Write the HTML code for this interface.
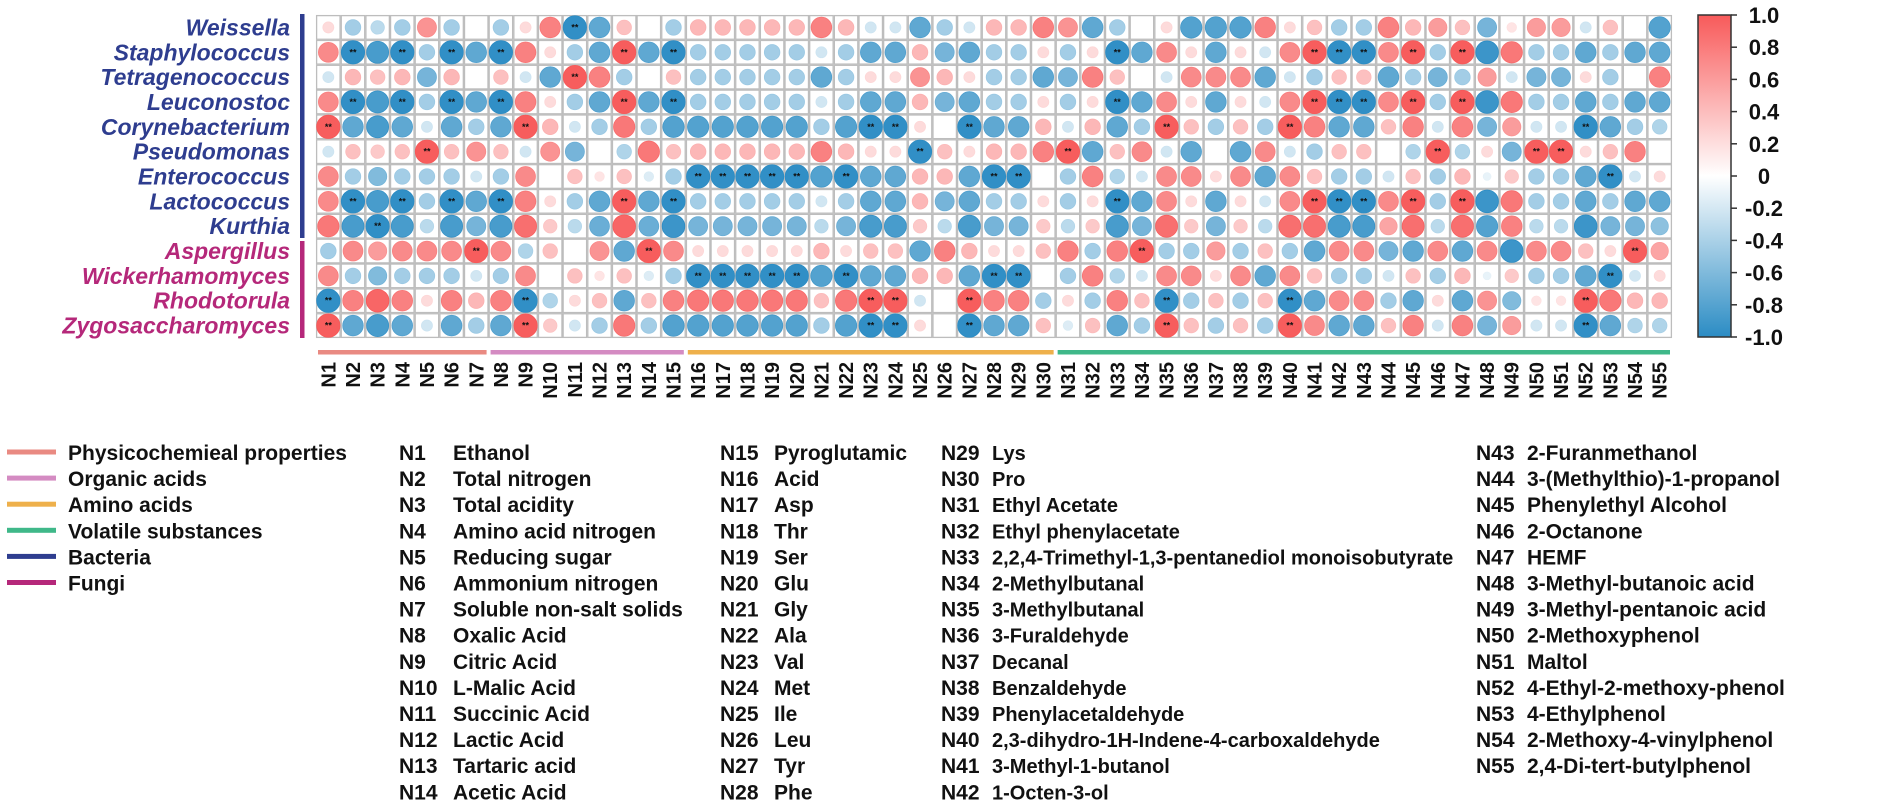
<!DOCTYPE html>
<html><head><meta charset="utf-8"><style>
html,body{margin:0;padding:0;background:#fff;}
svg{display:block;}
text{font-family:"Liberation Sans",Arial,sans-serif;}
</style></head><body>
<svg id="chart" width="1902" height="809" viewBox="0 0 1902 809" xmlns="http://www.w3.org/2000/svg">
<defs><linearGradient id="cbg" x1="0" y1="0" x2="0" y2="1">
<stop offset="0" stop-color="#f85a5a"/><stop offset="0.5" stop-color="#ffffff"/><stop offset="1" stop-color="#2b8cc4"/></linearGradient></defs>
<g id="grid"></g>
<g id="rowlabels"></g>
<g id="collabels"></g>
<g id="groupbars"></g>
<rect x="300" y="14" width="4.5" height="224" fill="#2e3d8f"/>
<rect x="300" y="241" width="4.5" height="97" fill="#b5287a"/>
<g>
<rect x="1698" y="15" width="33" height="322" fill="url(#cbg)" stroke="#333" stroke-width="1.5"/>
<g id="cbticks"></g>
</g>
<g id="legend"></g>
</svg>
<script>
const NS="http://www.w3.org/2000/svg";
const rowNames=["Weissella","Staphylococcus","Tetragenococcus","Leuconostoc","Corynebacterium","Pseudomonas","Enterococcus","Lactococcus","Kurthia","Aspergillus","Wickerhamomyces","Rhodotorula","Zygosaccharomyces"];
const rowGroups=["b","b","b","b","b","b","b","b","b","f","f","f","f"];
const colNames=Array.from({length:55},(_,i)=>"N"+(i+1));
const rWeissella=[0.2,-0.4,-0.3,-0.4,0.6,-0.4,0,-0.4,0.2,0.7,-0.9,-0.7,0.35,0,-0.4,0.4,0.4,0.4,0.4,0.4,0.7,0.4,-0.2,-0.2,-0.7,-0.4,-0.2,0.4,0.4,0.7,0.6,-0.7,-0.4,0,0.2,-0.75,-0.75,-0.75,0.7,0.2,0.35,-0.4,-0.4,0.7,0.4,0.55,0.35,-0.6,0.15,0.55,0.55,-0.2,0.35,0,-0.75];
const rStaphylococcus=[0.65,-0.9,-0.8,-0.9,-0.4,-0.9,-0.7,-0.9,0.7,0.2,-0.4,-0.7,0.9,-0.7,-0.9,-0.4,-0.4,-0.4,-0.4,-0.4,-0.2,-0.4,-0.7,-0.7,0.4,-0.6,-0.7,-0.4,-0.4,0.2,-0.4,0.2,-0.9,-0.7,0.65,0.2,-0.7,0.2,-0.2,0.65,0.9,-0.9,-0.9,0.65,0.9,-0.4,0.9,-0.85,0.75,-0.4,-0.4,-0.7,-0.4,-0.7,-0.7];
const rTetragenococcus=[-0.2,0.4,0.35,0.4,-0.6,0.4,0,0.35,-0.2,-0.7,0.9,0.7,-0.4,0,0.35,-0.4,-0.4,-0.4,-0.4,-0.4,-0.7,-0.4,0.2,0.2,0.6,0.4,0.2,-0.4,-0.4,-0.7,-0.6,0.7,0.35,0,-0.2,0.65,0.65,0.65,-0.7,-0.2,-0.4,0.35,0.35,-0.7,-0.4,-0.6,-0.4,0.55,-0.2,-0.6,-0.6,0.2,-0.4,0,0.7];
const rLeuconostoc=[0.65,-0.9,-0.8,-0.9,-0.4,-0.9,-0.7,-0.9,0.7,0.2,-0.4,-0.7,0.9,-0.7,-0.9,-0.4,-0.4,-0.4,-0.4,-0.4,-0.2,-0.4,-0.7,-0.7,0.4,-0.6,-0.7,-0.4,-0.4,0.2,-0.4,0.2,-0.9,-0.7,0.65,0.2,-0.7,0.2,-0.2,0.65,0.9,-0.9,-0.9,0.65,0.9,-0.4,0.9,-0.85,0.75,-0.4,-0.4,-0.7,-0.4,-0.7,-0.7];
const rCorynebacterium=[0.9,-0.7,-0.8,-0.7,-0.2,-0.7,-0.4,-0.7,0.9,0.4,-0.2,-0.4,0.75,-0.4,-0.75,-0.75,-0.75,-0.75,-0.75,-0.75,-0.4,-0.75,-0.9,-0.9,0.2,0,-0.9,-0.7,-0.7,0.4,-0.2,0.4,-0.7,-0.4,0.9,0.35,-0.4,0.35,-0.4,0.9,0.7,-0.7,-0.7,0.35,0.7,-0.2,0.7,-0.6,0.55,-0.2,-0.2,-0.9,-0.7,-0.4,-0.35];
const rPseudomonas=[-0.2,0.35,0.3,0.35,0.9,0.35,0.6,0.35,-0.2,0.6,-0.6,0,-0.35,0.75,0.35,0.4,0.4,0.4,0.4,0.4,0.7,0.4,0.2,0.2,-0.9,0.35,0.2,0.4,0.4,0.7,0.9,-0.7,0.35,0.65,-0.2,-0.7,0,-0.7,0.65,-0.2,-0.4,0.35,0.35,0,-0.35,0.9,-0.35,0.2,-0.6,0.9,0.9,0.2,0.35,0.7,0];
const rEnterococcus=[0.65,-0.4,-0.55,-0.4,-0.4,-0.4,-0.2,-0.4,0.65,0,0.35,0.15,0.35,-0.15,-0.4,-0.9,-0.9,-0.9,-0.9,-0.9,-0.75,-0.9,-0.7,-0.7,0.4,0.4,-0.7,-0.9,-0.9,0,-0.4,0.7,-0.35,-0.2,0.65,0.65,0.2,0.65,-0.7,0.65,0.35,-0.4,-0.4,-0.2,0.35,-0.4,0.4,-0.1,0.3,-0.4,-0.4,-0.7,-0.9,-0.2,0.2];
const rLactococcus=[0.65,-0.9,-0.8,-0.9,-0.4,-0.9,-0.7,-0.9,0.7,0.2,-0.4,-0.7,0.9,-0.7,-0.9,-0.4,-0.4,-0.4,-0.4,-0.4,-0.2,-0.4,-0.7,-0.7,0.4,-0.6,-0.7,-0.4,-0.4,0.2,-0.4,0.2,-0.9,-0.7,0.65,0.2,-0.7,0.2,-0.2,0.65,0.9,-0.9,-0.9,0.65,0.9,-0.4,0.9,-0.85,0.75,-0.4,-0.4,-0.7,-0.4,-0.7,-0.7];
const rKurthia=[0.75,-0.8,-0.9,-0.8,-0.3,-0.8,-0.6,-0.8,0.8,0.3,-0.3,-0.65,0.85,-0.65,-0.85,-0.6,-0.6,-0.6,-0.6,-0.6,-0.3,-0.6,-0.8,-0.8,0.3,-0.3,-0.8,-0.6,-0.6,0.3,-0.3,0.3,-0.8,-0.6,0.8,0.3,-0.6,0.3,-0.3,0.8,0.8,-0.8,-0.8,0.5,0.8,-0.3,0.8,-0.75,0.7,-0.3,-0.3,-0.85,-0.6,-0.6,-0.5];
const rAspergillus=[-0.4,0.65,0.55,0.65,0.65,0.65,0.9,0.65,-0.35,0.35,0,0.6,-0.7,0.9,0.65,0.2,0.2,0.2,0.2,0.2,0.4,0.2,0.35,0.35,-0.7,0.7,0.4,0.2,0.2,0.35,0.7,-0.4,0.7,0.9,-0.4,-0.4,0.55,-0.4,0.35,-0.4,-0.7,0.65,0.65,-0.6,-0.7,0.65,-0.7,0.65,-0.85,0.65,0.65,0.35,0.2,0.9,0.5];
const rWickerhamomyces=[0.65,-0.4,-0.55,-0.4,-0.4,-0.4,-0.2,-0.4,0.65,0,0.35,0.15,0.35,-0.15,-0.4,-0.9,-0.9,-0.9,-0.9,-0.9,-0.75,-0.9,-0.7,-0.7,0.4,0.4,-0.7,-0.9,-0.9,0,-0.4,0.7,-0.35,-0.2,0.65,0.65,0.2,0.65,-0.7,0.65,0.35,-0.4,-0.4,-0.2,0.35,-0.4,0.4,-0.1,0.3,-0.4,-0.4,-0.7,-0.9,-0.2,0.2];
const rRhodotorula=[-0.9,0.7,0.85,0.7,0.2,0.7,0.4,0.7,-0.9,-0.35,0.2,0.35,-0.7,0.35,0.7,0.75,0.75,0.75,0.75,0.75,0.35,0.75,0.9,0.9,-0.2,0,0.9,0.7,0.7,-0.4,0.2,-0.4,0.7,0.35,-0.9,-0.4,0.35,-0.4,0.35,-0.9,-0.7,0.65,0.65,-0.4,-0.7,0.2,-0.7,0.6,-0.55,0.15,0.15,0.9,0.75,0.4,0.4];
const rZygosaccharomyces=[0.9,-0.7,-0.8,-0.7,-0.2,-0.7,-0.4,-0.7,0.9,0.3,-0.2,-0.4,0.75,-0.4,-0.75,-0.75,-0.75,-0.75,-0.75,-0.75,-0.4,-0.75,-0.9,-0.9,0.2,0,-0.9,-0.7,-0.7,0.35,-0.15,0.35,-0.7,-0.4,0.9,0.35,-0.4,0.35,-0.4,0.9,0.65,-0.7,-0.7,0.35,0.7,-0.2,0.7,-0.6,0.55,-0.2,-0.2,-0.9,-0.7,-0.35,-0.35];
const values=[rWeissella,rStaphylococcus,rTetragenococcus,rLeuconostoc,rCorynebacterium,rPseudomonas,rEnterococcus,rLactococcus,rKurthia,rAspergillus,rWickerhamomyces,rRhodotorula,rZygosaccharomyces];
const sigThreshold=0.88;
const groupNames=["Physicochemieal properties","Organic acids","Amino acids","Volatile substances"];
const groupStart=[1,8,16,31];
const groupEnd=[7,15,30,55];
const groupColors=["#e98a82","#d48bc2","#eeb04b","#3fb889"];
const cbTicks=["1.0","0.8","0.6","0.4","0.2","0","-0.2","-0.4","-0.6","-0.8","-1.0"];
const legendNames=["Ethanol","Total nitrogen","Total acidity","Amino acid nitrogen","Reducing sugar","Ammonium nitrogen","Soluble non-salt solids","Oxalic Acid","Citric Acid","L-Malic Acid","Succinic Acid","Lactic Acid","Tartaric acid","Acetic Acid","Pyroglutamic","Acid","Asp","Thr","Ser","Glu","Gly","Ala","Val","Met","Ile","Leu","Tyr","Phe","Lys","Pro","Ethyl Acetate","Ethyl phenylacetate","2,2,4-Trimethyl-1,3-pentanediol monoisobutyrate","2-Methylbutanal","3-Methylbutanal","3-Furaldehyde","Decanal","Benzaldehyde","Phenylacetaldehyde","2,3-dihydro-1H-Indene-4-carboxaldehyde","3-Methyl-1-butanol","1-Octen-3-ol","2-Furanmethanol","3-(Methylthio)-1-propanol","Phenylethyl Alcohol","2-Octanone","HEMF","3-Methyl-butanoic acid","3-Methyl-pentanoic acid","2-Methoxyphenol","Maltol","4-Ethyl-2-methoxy-phenol","4-Ethylphenol","2-Methoxy-4-vinylphenol","2,4-Di-tert-butylphenol"];

const X0=316,Y0=15,CW=(1672-316)/55,CH=(338-15)/13,RMAX=12.3;
const xCenter=i=>X0+CW*(i+0.5);
const yCenter=j=>Y0+CH*(j+0.5);
const cbY=v=>15+(1-v)/2*322;
function mk(tag,attrs,parent){const e=document.createElementNS(NS,tag);for(const k in attrs)e.setAttribute(k,attrs[k]);parent.appendChild(e);return e;}
function color(v){const t=Math.min(1,Math.abs(v)*1.08);const end=v>=0?[247,88,88]:[43,140,196];
 const c=end.map(e=>Math.round(255+(e-255)*t));return `rgb(${c[0]},${c[1]},${c[2]})`;}
const grid=document.getElementById('grid');
for(let j=0;j<values.length;j++){for(let i=0;i<values[j].length;i++){
 const v=values[j][i];
 const cell=mk('rect',{x:X0+CW*i+0.6,y:Y0+CH*j+0.6,width:CW-1.2,height:CH-1.2,fill:'#fff',stroke:'#bdbdbd','stroke-width':1.3},grid);
 
 
 if(v!==0){const c=mk('circle',{cx:xCenter(i),cy:yCenter(j),r:RMAX*Math.sqrt(Math.abs(v)),fill:color(v),stroke:color(v*1.1),'stroke-width':0.8},grid);
  
  
  if(Math.abs(v)>=sigThreshold){const s=mk('text',{x:xCenter(i),y:yCenter(j)+3,'text-anchor':'middle','font-size':9,'font-weight':'bold',fill:'#111'},grid);s.textContent='**';
   
   }
 }}}
const rl=document.getElementById('rowlabels');
rowNames.forEach((n,j)=>{const t=mk('text',{x:290,y:yCenter(j)+8,'text-anchor':'end','font-size':23,'font-weight':'bold','font-style':'italic',fill:rowGroups[j]==='b'?'#2e3d8f':'#b5287a'},rl);t.textContent=n;
 
 });
const cl=document.getElementById('collabels');
colNames.forEach((n,i)=>{const x=xCenter(i)+7,y=362;const t=mk('text',{x:x,y:y,transform:`rotate(-90 ${x} ${y})`,'text-anchor':'end','font-size':20,'font-weight':'bold',fill:'#111'},cl);t.textContent=n;
 
 });
const gb=document.getElementById('groupbars');
groupNames.forEach((g,k)=>{const r=mk('rect',{x:X0+CW*(groupStart[k]-1)+2,y:350,width:CW*(groupEnd[k]-groupStart[k]+1)-4,height:4.5,fill:groupColors[k]},gb);
 
 });
const cbt=document.getElementById('cbticks');
cbTicks.forEach(t=>{const v=parseFloat(t);const y=cbY(v);
 mk('line',{x1:1731,x2:1737,y1:y,y2:y,stroke:'#333','stroke-width':1.5},cbt);
 const e=mk('text',{x:1764,y:y+8,'text-anchor':'middle','font-size':22,'font-weight':'bold',fill:'#111'},cbt);e.textContent=t;
 
 });
const lg=document.getElementById('legend');
const legLines=[...groupNames.map((g,k)=>[g,groupColors[k]]),["Bacteria","#2e3d8f"],["Fungi","#b5287a"]];
legLines.forEach((p,k)=>{const y=452+26.1*k;
 const l=mk('rect',{x:7,y:y-2.5,width:49,height:5,fill:p[1]},lg);
 
 
 const t=mk('text',{x:68,y:y+8,'font-size':21,'font-weight':'bold',fill:'#111'},lg);t.textContent=p[0];
 
 });
const legCols=[[399,453,0,21],[720,774,14,21],[941,992,28,20],[1476,1527,42,21]];
legCols.forEach((c,ci)=>{const cnt=ci===3?13:14;for(let k=0;k<cnt;k++){const idx=c[2]+k;const y=452+26.1*k+8;
 const a=mk('text',{x:c[0],y:y,'font-size':21,'font-weight':'bold',fill:'#111'},lg);a.textContent=colNames[idx];
 
 
 const b=mk('text',{x:c[1],y:y,'font-size':c[3],'font-weight':'bold',fill:'#111'},lg);b.textContent=legendNames[idx];
 
 }});
</script>
</body></html>
